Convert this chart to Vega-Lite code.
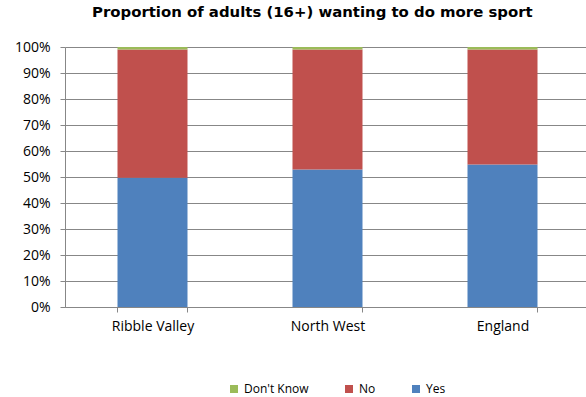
{
  "$schema": "https://vega.github.io/schema/vega-lite/v6.json",
  "autosize": {"type": "none"},
  "width": 521,
  "height": 260,
  "padding": {"left": 65, "top": 47, "right": 0, "bottom": 90},
  "background": "white",
  "title": {
    "text": "Proportion of adults (16+) wanting to do more sport",
    "font": "DejaVu Sans",
    "fontSize": 14.9,
    "fontWeight": "bold",
    "color": "#000000",
    "anchor": "start",
    "frame": "group",
    "dx": 27,
    "offset": 20
  },
  "data": {
    "values": [
      {"Area": "Ribble Valley", "Response": "Yes", "Share": 0.497},
      {"Area": "Ribble Valley", "Response": "No", "Share": 0.493},
      {"Area": "Ribble Valley", "Response": "Don't Know", "Share": 0.010},
      {"Area": "North West", "Response": "Yes", "Share": 0.529},
      {"Area": "North West", "Response": "No", "Share": 0.461},
      {"Area": "North West", "Response": "Don't Know", "Share": 0.010},
      {"Area": "England", "Response": "Yes", "Share": 0.548},
      {"Area": "England", "Response": "No", "Share": 0.442},
      {"Area": "England", "Response": "Don't Know", "Share": 0.010}
    ]
  },
  "mark": {"type": "bar"},
  "encoding": {
    "x": {
      "field": "Area",
      "type": "nominal",
      "sort": ["Ribble Valley", "North West", "England"],
      "scale": {"paddingInner": 0.6, "paddingOuter": 0.28857, "align": 0.5198},
      "axis": {
        "title": null,
        "labelAngle": 0,
        "labelFont": "Open Sans",
        "labelFontSize": 14,
        "labelColor": "#000000",
        "labelPadding": 7,
        "tickBand": "extent",
        "ticks": true,
        "tickSize": 5,
        "tickColor": "#878787",
        "domainColor": "#878787",
        "grid": false
      }
    },
    "y": {
      "field": "Share",
      "type": "quantitative",
      "stack": "zero",
      "scale": {"domain": [0, 1], "nice": false},
      "axis": {
        "title": null,
        "format": ".0%",
        "values": [0, 0.1, 0.2, 0.3, 0.4, 0.5, 0.6, 0.7, 0.8, 0.9, 1],
        "labelFont": "Open Sans",
        "labelFontSize": 14,
        "labelColor": "#000000",
        "labelPadding": 10,
        "tickSize": 5,
        "tickColor": "#878787",
        "domainColor": "#878787",
        "grid": true,
        "gridColor": "#878787",
        "gridWidth": 1
      }
    },
    "color": {
      "field": "Response",
      "type": "nominal",
      "scale": {"domain": ["Don't Know", "No", "Yes"], "range": ["#9BBB59", "#C0504D", "#4F81BD"]},
      "legend": {
        "title": null,
        "orient": "none",
        "legendX": 163,
        "legendY": 336,
        "direction": "horizontal",
        "symbolType": "square",
        "symbolSize": 64,
        "symbolStrokeWidth": 0,
        "labelFont": "Open Sans",
        "labelFontSize": 12,
        "labelColor": "#000000",
        "columnPadding": 34,
        "labelOffset": 4
      }
    },
    "order": {"field": "Response", "sort": "descending"}
  },
  "config": {
    "view": {"stroke": null}
  }
}
